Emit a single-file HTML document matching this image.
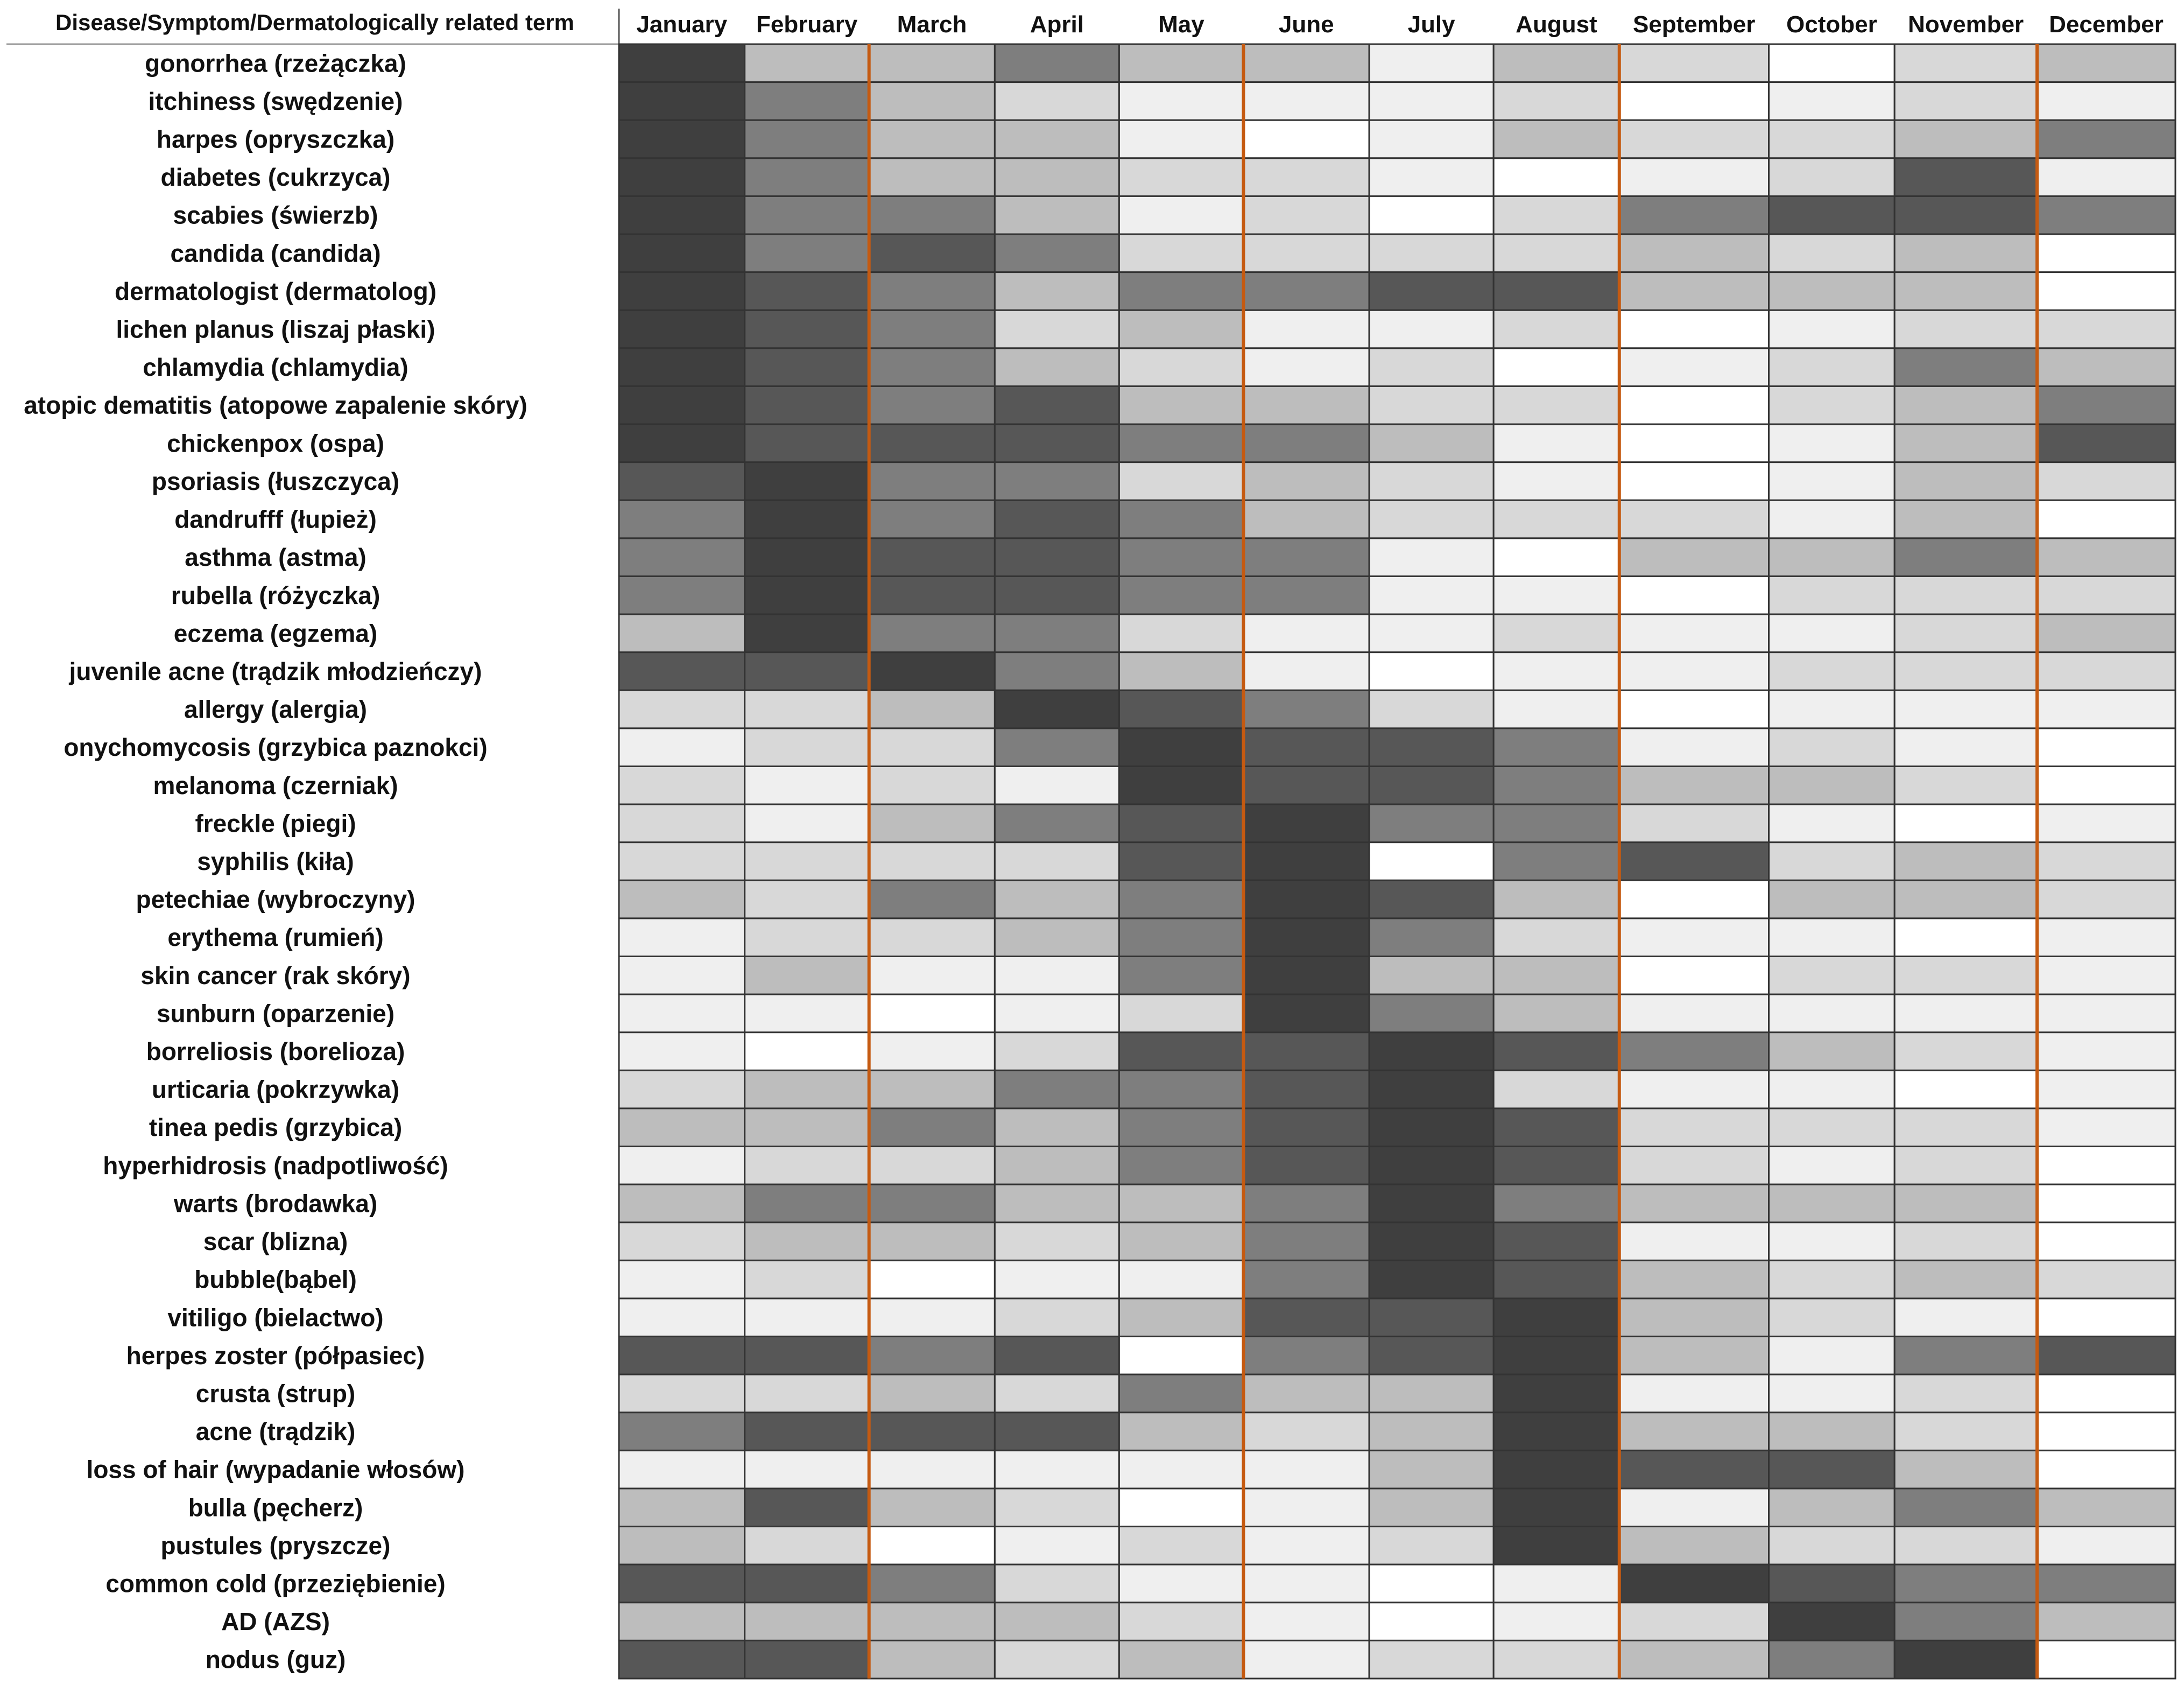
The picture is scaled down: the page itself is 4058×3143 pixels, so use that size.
<!DOCTYPE html>
<html><head><meta charset="utf-8"><style>
html,body{margin:0;padding:0;background:#fff;}
svg{display:block;}
text{font-family:"Liberation Sans",sans-serif;font-weight:bold;fill:#111;}
</style></head><body>
<svg id="chart" width="4058" height="3143" viewBox="0 0 4058 3143" xmlns="http://www.w3.org/2000/svg"></svg>
<script>
const months = ["January","February","March","April","May","June","July","August","September","October","November","December"];
const terms = ["gonorrhea (rzeżączka)","itchiness (swędzenie)","harpes (opryszczka)","diabetes (cukrzyca)","scabies (świerzb)","candida (candida)","dermatologist (dermatolog)","lichen planus (liszaj płaski)","chlamydia (chlamydia)","atopic dematitis (atopowe zapalenie skóry)","chickenpox (ospa)","psoriasis (łuszczyca)","dandrufff (łupież)","asthma (astma)","rubella (różyczka)","eczema (egzema)","juvenile acne (trądzik młodzieńczy)","allergy (alergia)","onychomycosis (grzybica paznokci)","melanoma (czerniak)","freckle (piegi)","syphilis (kiła)","petechiae (wybroczyny)","erythema (rumień)","skin cancer (rak skóry)","sunburn (oparzenie)","borreliosis (borelioza)","urticaria (pokrzywka)","tinea pedis (grzybica)","hyperhidrosis (nadpotliwość)","warts (brodawka)","scar (blizna)","bubble(bąbel)","vitiligo (bielactwo)","herpes zoster (półpasiec)","crusta (strup)","acne (trądzik)","loss of hair (wypadanie włosów)","bulla (pęcherz)","pustules (pryszcze)","common cold (przeziębienie)","AD (AZS)","nodus (guz)"];
const levels = [
[1,4,4,3,4,4,6,4,5,7,5,4],
[1,3,4,5,6,6,6,5,7,6,5,6],
[1,3,4,4,6,7,6,4,5,5,4,3],
[1,3,4,4,5,5,6,7,6,5,2,6],
[1,3,3,4,6,5,7,5,3,2,2,3],
[1,3,2,3,5,5,5,5,4,5,4,7],
[1,2,3,4,3,3,2,2,4,4,4,7],
[1,2,3,5,4,6,6,5,7,6,5,5],
[1,2,3,4,5,6,5,7,6,5,3,4],
[1,2,3,2,4,4,5,5,7,5,4,3],
[1,2,2,2,3,3,4,6,7,6,4,2],
[2,1,3,3,5,4,5,6,7,6,4,5],
[3,1,3,2,3,4,5,5,5,6,4,7],
[3,1,2,2,3,3,6,7,4,4,3,4],
[3,1,2,2,3,3,6,6,7,5,5,5],
[4,1,3,3,5,6,6,5,6,6,5,4],
[2,2,1,3,4,6,7,6,6,5,5,5],
[5,5,4,1,2,3,5,6,7,6,6,6],
[6,5,5,3,1,2,2,3,6,5,6,7],
[5,6,5,6,1,2,2,3,4,4,5,7],
[5,6,4,3,2,1,3,3,5,6,7,6],
[5,5,5,5,2,1,7,3,2,5,4,5],
[4,5,3,4,3,1,2,4,7,4,4,5],
[6,5,5,4,3,1,3,5,6,6,7,6],
[6,4,6,6,3,1,4,4,7,5,5,6],
[6,6,7,6,5,1,3,4,6,6,6,6],
[6,7,6,5,2,2,1,2,3,4,5,6],
[5,4,4,3,3,2,1,5,6,6,7,6],
[4,4,3,4,3,2,1,2,5,5,5,6],
[6,5,5,4,3,2,1,2,5,6,5,7],
[4,3,3,4,4,3,1,3,4,4,4,7],
[5,4,4,5,4,3,1,2,6,6,5,7],
[6,5,7,6,6,3,1,2,4,5,4,5],
[6,6,6,5,4,2,2,1,4,5,6,7],
[2,2,3,2,7,3,2,1,4,6,3,2],
[5,5,4,5,3,4,4,1,6,6,5,7],
[3,2,2,2,4,5,4,1,4,4,5,7],
[6,6,6,6,6,6,4,1,2,2,4,7],
[4,2,4,5,7,6,4,1,6,4,3,4],
[4,5,7,6,5,6,5,1,4,5,5,6],
[2,2,3,5,6,6,7,6,1,2,3,3],
[4,4,4,4,5,6,7,6,5,1,3,4],
[2,2,4,5,4,6,5,5,4,3,1,7]
];
const shades = ["#3f3f3f","#575757","#7e7e7e","#bdbdbd","#d8d8d8","#efefef","#ffffff"];
const seasonStarts = [2,5,8,11];

const S = 2.596;
const colEdges = [443,533,622,712,801,890,980,1069,1159,1266,1356,1458,1557].map(v=>v*S);
const gridTop = 82, gridBottom = 3118;
const rowH = (gridBottom-gridTop)/terms.length;
const svg = document.getElementById('chart');
const NS = "http://www.w3.org/2000/svg";
function mk(tag, attrs){const e=document.createElementNS(NS,tag);for(const k in attrs)e.setAttribute(k,attrs[k]);svg.appendChild(e);return e;}
function xCol(i){return colEdges[i];}
function yRow(r){return gridTop + r*rowH;}

let h = mk('text',{x:585,y:56,'font-size':42,'text-anchor':'middle'});
h.textContent = "Disease/Symptom/Dermatologically related term";


months.forEach((m,i)=>{
  const t = mk('text',{x:(xCol(i)+xCol(i+1))/2,y:60,'font-size':44,'text-anchor':'middle'});
  t.textContent = m;
  
  
});
let hl = mk('line',{x1:12,y1:gridTop,x2:colEdges[12],y2:gridTop,stroke:'#999','stroke-width':3});


let vl = mk('line',{x1:colEdges[0],y1:16,x2:colEdges[0],y2:gridTop,stroke:'#555','stroke-width':3});



terms.forEach((term,r)=>{
  const t = mk('text',{x:512,y:yRow(r)+rowH/2+16,'font-size':46,'text-anchor':'middle'});
  t.textContent = term;
  
  
  levels[r].forEach((lv,c)=>{
    const rc = mk('rect',{x:xCol(c),y:yRow(r),width:xCol(c+1)-xCol(c),height:rowH,fill:shades[lv-1],stroke:'#333','stroke-width':3});
    
    
  });
});
seasonStarts.forEach(c=>{
  const l = mk('line',{x1:xCol(c),y1:gridTop,x2:xCol(c),y2:gridBottom,stroke:'#c55a11','stroke-width':6});
  
  
});
</script>
</body></html>
